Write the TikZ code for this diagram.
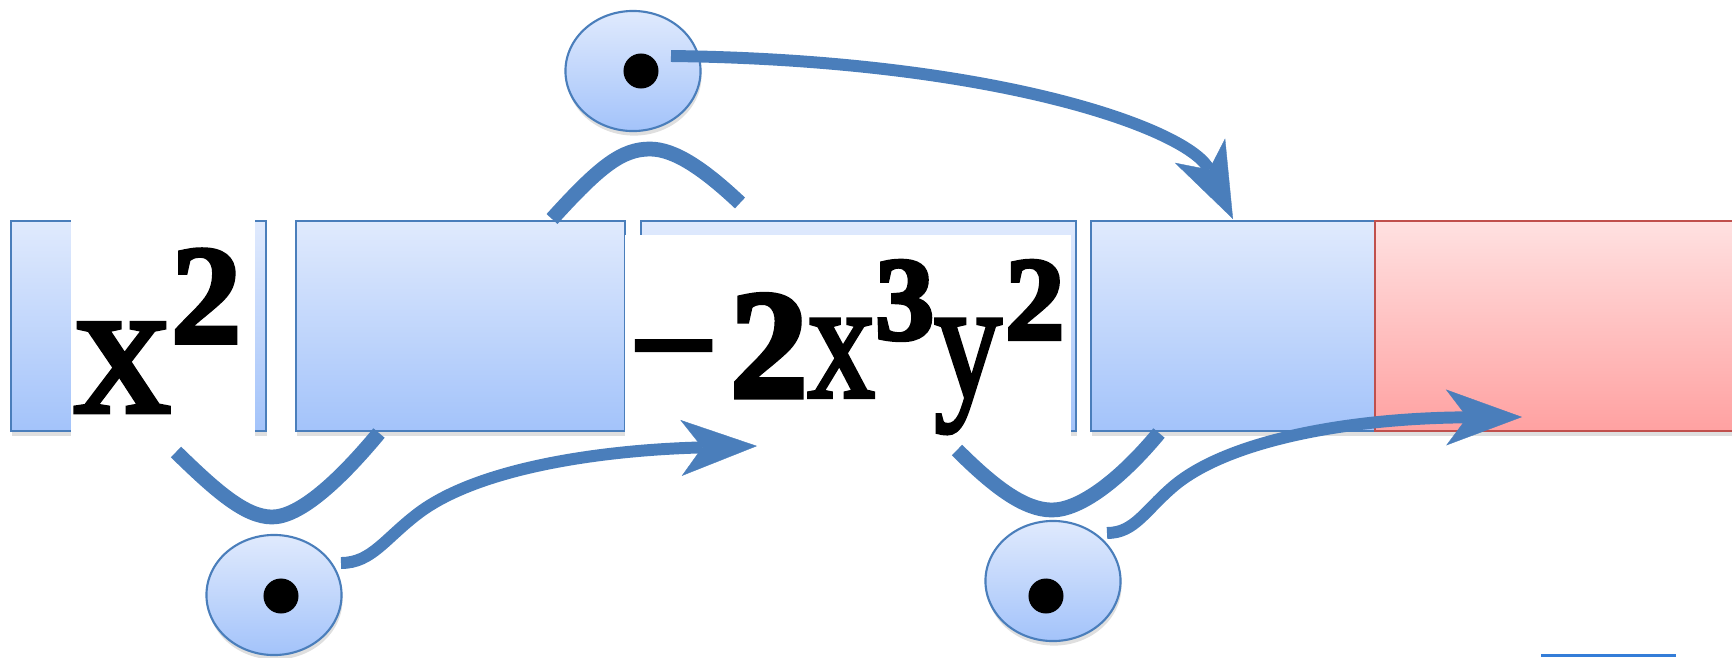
\documentclass[tikz,border=0pt]{standalone}
\usepackage{graphicx}
\usepackage{fontspec}
\setmainfont{Liberation Serif}
\newfontfamily\heavyserif{Liberation Serif}[FakeBold=2.5]
\newfontfamily\heavyminus{Liberation Serif}[FakeBold=3.5]
\usetikzlibrary{arrows.meta,shapes.geometric,shadows}
\definecolor{ppblue}{RGB}{74,126,187}
\definecolor{boxtop}{RGB}{224,234,253}
\definecolor{boxbot}{RGB}{163,195,250}
\definecolor{redtop}{RGB}{255,225,225}
\definecolor{redbot}{RGB}{255,161,161}
\definecolor{redline}{RGB}{192,80,77}
\definecolor{underline}{RGB}{52,125,216}
\begin{document}
\begin{tikzpicture}[x=0.01cm,y=-0.01cm,
  cell/.style={rectangle, draw=ppblue, line width=0.6pt, top color=boxtop, bottom color=boxbot,
    inner sep=0pt, outer sep=0pt, anchor=north west, minimum height=2.10cm,
    drop shadow={shadow xshift=0.3pt, shadow yshift=-1.3pt, opacity=0.25}},
  redcell/.style={cell, draw=redline, top color=redtop, bottom color=redbot},
  bubble/.style={ellipse, draw=ppblue, line width=0.6pt, top color=boxtop, bottom color=boxbot,
    inner sep=0pt, minimum width=1.35cm, minimum height=1.20cm,
    drop shadow={shadow xshift=0.3pt, shadow yshift=-1.3pt, opacity=0.25}},
  dotmark/.style={circle, fill=black, inner sep=0pt, minimum size=0.35cm},
  bracket/.style={draw=ppblue, line width=4.2pt},
  flow/.style={draw=ppblue, line width=3.4pt,
    -{Stealth[length=21.6pt, width=15.9pt, inset=6pt, line width=0.1pt]}},
  formula/.style={anchor=base west, inner sep=0pt, outer sep=0pt},
]
\useasboundingbox (0,0) rectangle (1732,657);
\clip (0,0) rectangle (1732,657);

% cells
\node[cell, minimum width=2.55cm] (b1) at (11,221) {};
\node[cell, minimum width=3.29cm] (b2) at (296,221) {};
\node[cell, minimum width=4.35cm] (b3) at (641,221) {};
\node[cell, minimum width=2.84cm] (b4) at (1091,221) {};
\node[redcell, minimum width=3.70cm] (b5) at (1375,221) {};

% white patches behind the formulas
\fill[white] (71,220) rectangle (255,443);
\fill[white] (625,235) rectangle (1071,440);

% formulas
\node[formula] (t1) at (74,412) {\fontsize{55pt}{60pt}\heavyserif x\raisebox{19.6pt}{\fontsize{40.4pt}{44pt}\selectfont\bfseries 2}};
\node[formula] (t2) at (630,397) {\fontsize{44pt}{48pt}\heavyminus −\hspace{3.7pt}\bfseries 2\mdseries\scalebox{0.8}[1]{\fontsize{48pt}{52pt}\heavyserif x}\raisebox{16.5pt}{\fontsize{33.6pt}{36pt}\selectfont\bfseries 3}\scalebox{0.8}[1]{\fontsize{48pt}{52pt}\heavyserif y}\hspace{1pt}\raisebox{16.5pt}{\fontsize{33.6pt}{36pt}\selectfont\bfseries 2}};

% brackets
\coordinate (fa) at (552,219); \coordinate (fm) at (650,149); \coordinate (fb) at (740,203);
\draw[bracket] (fa) .. controls (600,166) and (622,149) .. (fm) .. controls (675,149) and (705,170) .. (fb);
\coordinate (ua) at (176,452); \coordinate (um) at (272,517); \coordinate (ub) at (379,433);
\draw[bracket] (ua) .. controls (215,490) and (245,517) .. (um) .. controls (300,517) and (340,480) .. (ub);
\coordinate (va) at (957,450); \coordinate (vm) at (1052,510); \coordinate (vb) at (1159,433);
\draw[bracket] (va) .. controls (995,488) and (1025,510) .. (vm) .. controls (1080,510) and (1120,480) .. (vb);

% bubbles
\node[bubble] (e0) at (633,71) {};
\node[bubble] (e1) at (274,595) {};
\node[bubble] (e2) at (1053,581) {};
\node[dotmark] (d0) at (641,71) {};
\node[dotmark] (d1) at (281,596) {};
\node[dotmark] (d2) at (1046,596) {};

% arrows
\coordinate (s0) at (671,56); \coordinate (tip0) at (1233,219);
\draw[flow] (s0) .. controls (1000,60) and (1190,130) .. (tip0);
\coordinate (s1) at (341,563); \coordinate (k1) at (420,512); \coordinate (tip1) at (757,446);
\draw[flow] (s1) .. controls (372,563) and (385,538) .. (k1) .. controls (480,468) and (600,450) .. (tip1);
\coordinate (s2) at (1107,533); \coordinate (k2) at (1175,485); \coordinate (tip2) at (1522,417);
\draw[flow] (s2) .. controls (1135,533) and (1145,510) .. (k2) .. controls (1230,440) and (1350,418) .. (tip2);

% bottom stub
\coordinate (ba) at (1541,655.5); \coordinate (bb) at (1676,655.5);
\draw[underline, line width=0.85pt] (ba) -- (bb);
\end{tikzpicture}
\end{document}
